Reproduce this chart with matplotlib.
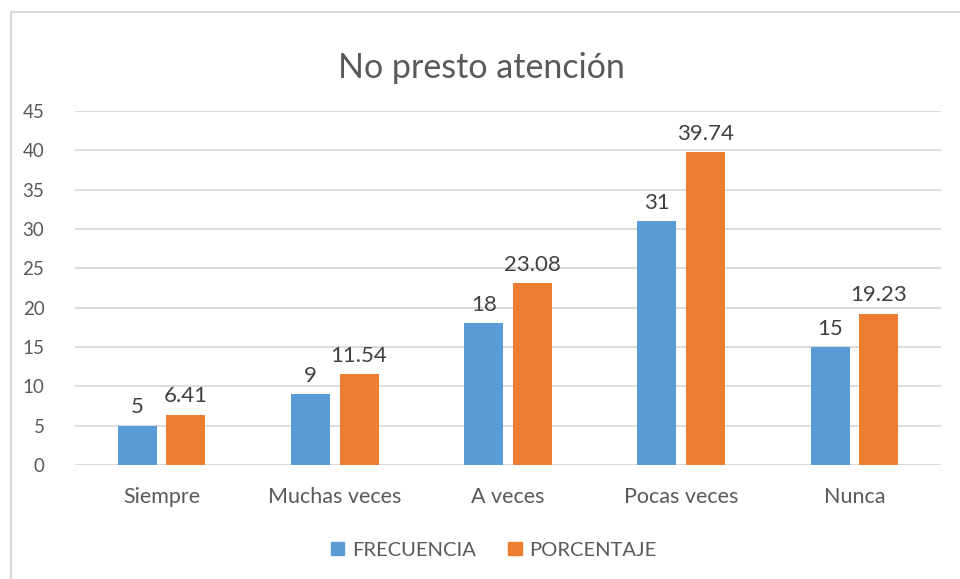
import numpy as np
import matplotlib.pyplot as plt
from matplotlib.lines import Line2D

categorias = ['Siempre', 'Muchas veces', 'A veces', 'Pocas veces', 'Nunca']
frecuencia = [5, 9, 18, 31, 15]
porcentaje = [6.41, 11.54, 23.08, 39.74, 19.23]
etiq_frec = ['5', '9', '18', '31', '15']
etiq_porc = ['6.41', '11.54', '23.08', '39.74', '19.23']

plt.rcParams['font.family'] = ['Lato', 'DejaVu Sans']
azul = '#5b9bd5'
naranja = '#ed7d31'
texto = '#595959'
gris = '#d9d9d9'

fig = plt.figure(figsize=(9.6, 5.79), dpi=100)
ax = fig.add_axes([75/960, 1 - 465/579, 866/960, 354/579])

x = np.arange(len(categorias))
w = 0.225
gap = 0.055
b1 = ax.bar(x - (w + gap)/2, frecuencia, w, color=azul, zorder=3)
b2 = ax.bar(x + (w + gap)/2, porcentaje, w, color=naranja, zorder=3)

ax.bar_label(b1, labels=etiq_frec, padding=6, fontsize=16, color='#404040')
ax.bar_label(b2, labels=etiq_porc, padding=6, fontsize=16, color='#404040')

ax.set_xlim(-0.5, len(categorias) - 0.5)
ax.set_ylim(0, 45)
ax.set_yticks(range(0, 46, 5))
ax.set_xticks(x)
ax.set_xticklabels(categorias)
ax.tick_params(axis='both', length=0, colors=texto)
ax.tick_params(axis='x', pad=16, labelsize=15.5)
ax.tick_params(axis='y', pad=22, labelsize=13.5)
ax.grid(axis='y', color=gris, linewidth=1.3, zorder=0)
for s in ax.spines.values():
    s.set_visible(False)

fig.text(481/960, 1 - 68/579, 'No presto atención', ha='center', va='center',
         fontsize=24.5, color=texto)

# borde del gráfico
fig.add_artist(Line2D([11/960, 11/960], [0, 1 - 12/579], color=gris, lw=1.5))
fig.add_artist(Line2D([11/960, 1], [1 - 12/579, 1 - 12/579], color=gris, lw=1.5))

handles = [plt.Rectangle((0, 0), 1, 1, color=azul), plt.Rectangle((0, 0), 1, 1, color=naranja)]
fig.legend(handles, ['FRECUENCIA', 'PORCENTAJE'], loc='center', bbox_to_anchor=(494/960, 1 - 550/579),
           ncol=2, frameon=False, fontsize=14.5, labelcolor=texto, handlelength=0.65,
           handleheight=0.65, handletextpad=0.4, columnspacing=1.6)

fig.savefig('out.png', dpi=100)
